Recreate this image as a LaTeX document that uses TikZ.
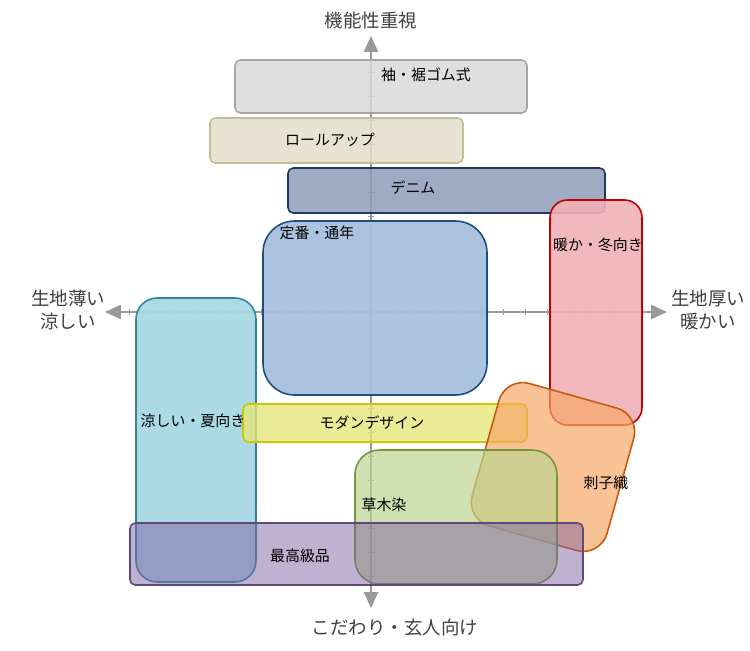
\documentclass[tikz,border=0pt]{standalone}
\usepackage{fontspec}
\setmainfont{Noto Sans CJK JP}
\usetikzlibrary{arrows.meta,positioning}
\definecolor{axisgray}{HTML}{999999}
\definecolor{sodefill}{HTML}{D9D9D9}\definecolor{sodeline}{HTML}{A6A6A6}
\definecolor{rollfill}{HTML}{E2DEC8}\definecolor{rollline}{HTML}{C4BD97}
\definecolor{denimfill}{HTML}{8E9CB7}\definecolor{denimline}{HTML}{1F3864}
\definecolor{winterfill}{HTML}{F0B0B6}\definecolor{winterline}{HTML}{C00000}
\definecolor{teibanfill}{HTML}{A6BFDF}\definecolor{teibanline}{HTML}{1F4E79}
\definecolor{summerfill}{HTML}{A7D7E3}\definecolor{summerline}{HTML}{31849B}
\definecolor{modernfill}{HTML}{E6E67A}\definecolor{modernline}{HTML}{C8C800}
\definecolor{sashikofill}{HTML}{F7A868}\definecolor{sashikoline}{HTML}{C55A11}
\definecolor{kusakifill}{HTML}{BCD38E}\definecolor{kusakiline}{HTML}{77933C}
\definecolor{kokyufill}{HTML}{8064A2}\definecolor{kokyuline}{HTML}{5F497A}
\tikzset{
  zone/.style={draw, line width=0.9pt, rounded corners=#1},
  zone/.default=3pt,
  lbl/.style={font=\fontsize{8.5}{10}\selectfont, text=black},
  axlbl/.style={font=\fontsize{10.5}{13}\selectfont, text=black!75, align=center},
}
\begin{document}
\begin{tikzpicture}[x=0.02cm, y=-0.02cm]
  \useasboundingbox (0,0) rectangle (750,650);
  % axes
  \draw[axisgray, line width=1pt, {Triangle[length=9pt,width=8pt]}-{Triangle[length=9pt,width=8pt]}] (105,312) -- (667,312);
  \draw[axisgray, line width=1pt, {Triangle[length=9pt,width=8pt]}-{Triangle[length=9pt,width=8pt]}] (371,36) -- (371,608);
  \foreach \i in {1,...,11} {
    \draw[axisgray] (371+22*\i,309) -- (371+22*\i,315);
    \draw[axisgray] (371-22*\i,309) -- (371-22*\i,315);
    \draw[axisgray] (368,312+24*\i) -- (374,312+24*\i);
    \draw[axisgray] (368,312-24*\i) -- (374,312-24*\i);
  }
  % zones
  \draw[zone, fill=sodefill, draw=sodeline, fill opacity=0.85] (235,60) rectangle (527,113);
  \draw[zone, fill=rollfill, draw=rollline, fill opacity=0.85] (210,118) rectangle (463,163);
  \draw[zone, fill=denimfill, draw=denimline, fill opacity=0.85] (288,168) rectangle (605,213);
  \draw[zone=10pt, fill=winterfill, draw=winterline, fill opacity=0.9] (550,200) rectangle (642,425);
  \draw[zone=18pt, fill=teibanfill, draw=teibanline, fill opacity=0.95] (263,221) rectangle (487,395);
  \draw[zone=12pt, fill=summerfill, draw=summerline, fill opacity=0.95] (136,298) rectangle (256,582);
  \draw[zone, fill=modernfill, draw=modernline, fill opacity=0.8] (243,404) rectangle (527,442);
  \draw[zone=14pt, fill=sashikofill, draw=sashikoline, fill opacity=0.7, rotate around={-15.7:(553,467)}] (483,393) rectangle (623,541);
  \draw[zone=14pt, fill=kusakifill, draw=kusakiline, fill opacity=0.7] (355,450) rectangle (557,584);
  \draw[zone, fill=kokyufill, draw=kokyuline, fill opacity=0.5] (130,523) rectangle (583,585);
  % labels
  \node[lbl] (sode) at (426,75) {袖・裾ゴム式};
  \node[lbl] (roll) at (330,140) {ロールアップ};
  \node[lbl] (denim) at (413,188) {デニム};
  \node[lbl] (winter) at (598,245) {暖か・冬向き};
  \node[lbl] (teiban) at (317,233) {定番・通年};
  \node[lbl] (summer) at (193,421) {涼しい・夏向き};
  \node[lbl] (modern) at (372,423) {モダンデザイン};
  \node[lbl] (sashiko) at (606,483) {刺子織};
  \node[lbl] (kusaki) at (384,505) {草木染};
  \node[lbl] (kokyu) at (300,556) {最高級品};
  \node[axlbl] (top) at (371,20) {機能性重視};
  \node[axlbl] (bottom) at (395,628) {こだわり・玄人向け};
  \node[axlbl] (left) at (68,310) {生地薄い\\涼しい};
  \node[axlbl] (right) at (708,310) {生地厚い\\暖かい};
\end{tikzpicture}
\end{document}
